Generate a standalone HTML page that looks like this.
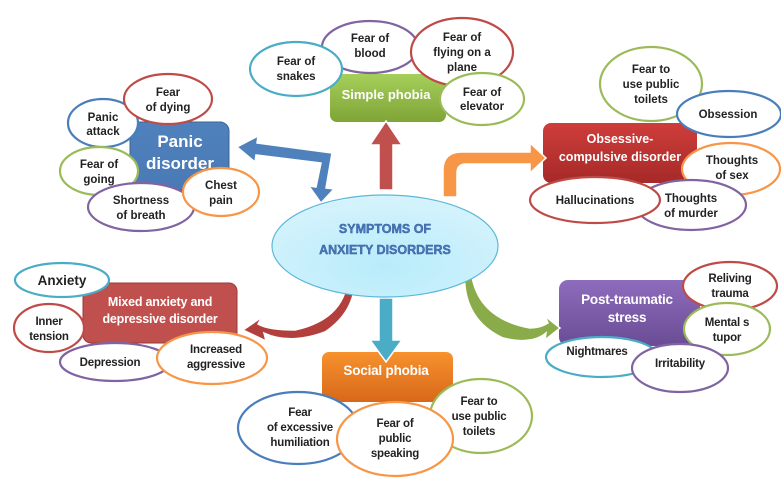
<!DOCTYPE html>
<html><head><meta charset="utf-8"><style>
html,body{margin:0;padding:0;background:#fff;}
svg{display:block;}
text{font-family:"Liberation Sans",sans-serif;font-weight:bold;text-anchor:middle;}
.e{fill:#fff;stroke-width:2.2;}
.l{font-size:11.5px;fill:#222;}
.c{font-size:11.5px;fill:#222;letter-spacing:-0.2px;}
.w{fill:#fff;}
.wc{fill:#fff;font-size:12.5px;letter-spacing:-0.2px;}
</style></head><body>
<svg width="781" height="499" viewBox="0 0 781 499" xmlns="http://www.w3.org/2000/svg">
<defs>
<radialGradient id="cg" cx="0.5" cy="0.7" r="0.7"><stop offset="0" stop-color="#b8ecfb"/><stop offset="1" stop-color="#d6f3fc"/></radialGradient>
<linearGradient id="gb" x1="0" y1="0" x2="0" y2="1"><stop offset="0" stop-color="#4f81bd"/><stop offset="1" stop-color="#4a7ab5"/></linearGradient>
<linearGradient id="gg" x1="0" y1="0" x2="0" y2="1"><stop offset="0" stop-color="#a5cf5a"/><stop offset="1" stop-color="#7fa437"/></linearGradient>
<linearGradient id="gr" x1="0" y1="0" x2="0" y2="1"><stop offset="0" stop-color="#cf3d3a"/><stop offset="1" stop-color="#a52a28"/></linearGradient>
<linearGradient id="go" x1="0" y1="0" x2="0" y2="1"><stop offset="0" stop-color="#f7922e"/><stop offset="1" stop-color="#d8681a"/></linearGradient>
<linearGradient id="gp" x1="0" y1="0" x2="0" y2="1"><stop offset="0" stop-color="#8e6cbd"/><stop offset="1" stop-color="#6a4c94"/></linearGradient>
</defs>

<rect x="130" y="122" width="99" height="68" rx="9" fill="url(#gb)" stroke="#3d6394" stroke-width="1"/>
<text x="180" y="147" class="w" style="font-size:17px">Panic</text>
<text x="180" y="169" class="w" style="font-size:17px">disorder</text>

<rect x="330" y="74" width="116" height="48" rx="7" fill="url(#gg)"/>
<text x="386" y="99" class="w" style="font-size:13px">Simple phobia</text>

<rect x="543" y="123" width="154" height="60" rx="8" fill="url(#gr)"/>
<text x="620" y="143" class="w" style="font-size:12.5px">Obsessive-</text>
<text x="620" y="161" class="w" style="font-size:12.5px">compulsive disorder</text>

<rect x="83" y="283" width="154" height="60" rx="8" fill="#c0504d" stroke="#9a3a38" stroke-width="1"/>
<text x="160" y="306" class="wc">Mixed anxiety and</text>
<text x="160" y="323" class="wc">depressive disorder</text>

<rect x="322" y="352" width="131" height="50" rx="7" fill="url(#go)"/>
<text x="386" y="375" class="wc" style="font-size:13.5px">Social phobia</text>

<rect x="559" y="280" width="141" height="66" rx="9" fill="url(#gp)"/>
<text x="627" y="304" class="wc" style="font-size:13.5px">Post-traumatic</text>
<text x="627" y="322" class="wc" style="font-size:13.5px">stress</text>

<polygon points="379,190 393,190 393,145 402,145 386,121 370,145 379,145" fill="#c0504d" stroke="#fff" stroke-width="1.5"/>
<polygon points="237,147 258,136 257,143 332,153 326,188 334,189 321,203 309,186 316,187 321,163 256,155 255,162" fill="#4f81bd" stroke="#fff" stroke-width="1.5"/>
<path d="M443,197 L443,170 Q443,152 462,152 L530,152 L530,143 L546,158 L530,173 L530,164 L466,164 Q457,164 457,173 L457,197 Z" fill="#f79646" stroke="#fff" stroke-width="1.5"/>
<polygon points="379,298 393,298 393,340 402,340 386,362 370,340 379,340" fill="#4bacc6" stroke="#fff" stroke-width="1.5"/>
<path d="M355,271 L348,268 Q350,318 295,330 Q268,330 258,324 L262,317 L243,330 L266,341 L264,333 Q290,345 325,332 Q358,310 355,271 Z" fill="#b33f3c" stroke="#fff" stroke-width="1.5"/>
<path d="M465,266 L471,270 Q476,318 530,328 Q540,328 548,323 L545,316 L560,328 L545,340 L546,333 Q532,345 503,338 Q460,318 465,266 Z" fill="#8aab4a" stroke="#fff" stroke-width="1.5"/>

<ellipse cx="385" cy="246" rx="113" ry="51" fill="url(#cg)" stroke="#5bb8d8" stroke-width="1.2"/>
<text x="385" y="233" style="font-size:12.5px;fill:#4a78bd;stroke:#2f5a99;stroke-width:0.4">SYMPTOMS OF</text>
<text x="385" y="254" style="font-size:12.5px;fill:#4a78bd;stroke:#2f5a99;stroke-width:0.4">ANXIETY DISORDERS</text>

<ellipse class="e" cx="103" cy="123" rx="35" ry="24" stroke="#4a7ebb"/>
<text class="l" x="103" y="121">Panic</text><text class="l" x="103" y="135">attack</text>
<ellipse class="e" cx="168" cy="99" rx="44" ry="25" stroke="#be4b48"/>
<text class="l" x="168" y="96">Fear</text><text class="l" x="168" y="111">of dying</text>
<ellipse class="e" cx="99" cy="171" rx="39" ry="24" stroke="#9bbb59"/>
<text class="l" x="99" y="168">Fear of</text><text class="l" x="99" y="183">going</text>
<ellipse class="e" cx="141" cy="207" rx="53" ry="24" stroke="#8064a2"/>
<text class="l" x="141" y="204">Shortness</text><text class="l" x="141" y="219">of breath</text>
<ellipse class="e" cx="221" cy="192" rx="38" ry="24" stroke="#f79646"/>
<text class="l" x="221" y="189">Chest</text><text class="l" x="221" y="204">pain</text>

<ellipse class="e" cx="370" cy="47" rx="48" ry="26" stroke="#8064a2"/>
<text class="l" x="370" y="42">Fear of</text><text class="l" x="370" y="57">blood</text>
<ellipse class="e" cx="296" cy="69" rx="46" ry="27" stroke="#4bacc6"/>
<text class="l" x="296" y="65">Fear of</text><text class="l" x="296" y="80">snakes</text>
<ellipse class="e" cx="462" cy="52" rx="51" ry="34" stroke="#be4b48"/>
<text class="l" x="462" y="41">Fear of</text><text class="l" x="462" y="56">flying on a</text><text class="l" x="462" y="71">plane</text>
<ellipse class="e" cx="482" cy="99" rx="42" ry="26" stroke="#9bbb59"/>
<text class="l" x="482" y="96">Fear of</text><text class="l" x="482" y="110">elevator</text>

<ellipse class="e" cx="651" cy="84" rx="51" ry="37" stroke="#9bbb59"/>
<text class="l" x="651" y="73">Fear to</text><text class="l" x="651" y="88">use public</text><text class="l" x="651" y="103">toilets</text>
<ellipse class="e" cx="729" cy="114" rx="52" ry="23" stroke="#4a7ebb"/>
<text class="l" x="728" y="118">Obsession</text>
<ellipse class="e" cx="731" cy="169" rx="49" ry="26" stroke="#f79646"/>
<text class="l" x="732" y="164">Thoughts</text><text class="l" x="732" y="179">of sex</text>
<ellipse class="e" cx="691" cy="205" rx="55" ry="25" stroke="#8064a2"/>
<ellipse class="e" cx="595" cy="200" rx="65" ry="23" stroke="#be4b48"/>
<text class="l" x="595" y="204">Hallucinations</text>
<text class="l" x="691" y="202">Thoughts</text><text class="l" x="691" y="217">of murder</text>

<ellipse class="e" cx="62" cy="280" rx="47" ry="17" stroke="#4bacc6"/>
<text x="62" y="285" style="font-size:13.5px;fill:#222">Anxiety</text>
<ellipse class="e" cx="49" cy="328" rx="35" ry="24" stroke="#be4b48"/>
<text class="c" x="49" y="325">Inner</text><text class="c" x="49" y="340">tension</text>
<ellipse class="e" cx="115" cy="362" rx="55" ry="19" stroke="#8064a2"/>
<text class="c" x="110" y="366">Depression</text>
<ellipse class="e" cx="212" cy="358" rx="55" ry="26" stroke="#f79646"/>
<text class="c" x="216" y="353">Increased</text><text class="c" x="216" y="368">aggressive</text>

<ellipse class="e" cx="298" cy="428" rx="60" ry="36" stroke="#4a7ebb"/>
<text class="c" x="300" y="416">Fear</text><text class="c" x="300" y="431">of excessive</text><text class="c" x="300" y="446">humiliation</text>
<ellipse class="e" cx="481" cy="416" rx="51" ry="37" stroke="#9bbb59"/>
<text class="c" x="479" y="405">Fear to</text><text class="c" x="479" y="420">use public</text><text class="c" x="479" y="435">toilets</text>
<ellipse class="e" cx="395" cy="439" rx="58" ry="37" stroke="#f79646"/>
<text class="c" x="395" y="427">Fear of</text><text class="c" x="395" y="442">public</text><text class="c" x="395" y="457">speaking</text>

<ellipse class="e" cx="730" cy="286" rx="47" ry="24" stroke="#be4b48"/>
<text class="c" x="730" y="282">Reliving</text><text class="c" x="730" y="297">trauma</text>
<ellipse class="e" cx="727" cy="329" rx="43" ry="26" stroke="#9bbb59"/>
<text class="c" x="727" y="326">Mental s</text><text class="c" x="727" y="341">tupor</text>
<ellipse class="e" cx="602" cy="357" rx="56" ry="20" stroke="#4bacc6"/>
<text class="c" x="597" y="355">Nightmares</text>
<ellipse class="e" cx="680" cy="368" rx="48" ry="24" stroke="#8064a2"/>
<text class="c" x="680" y="367">Irritability</text>
</svg>
</body></html>
